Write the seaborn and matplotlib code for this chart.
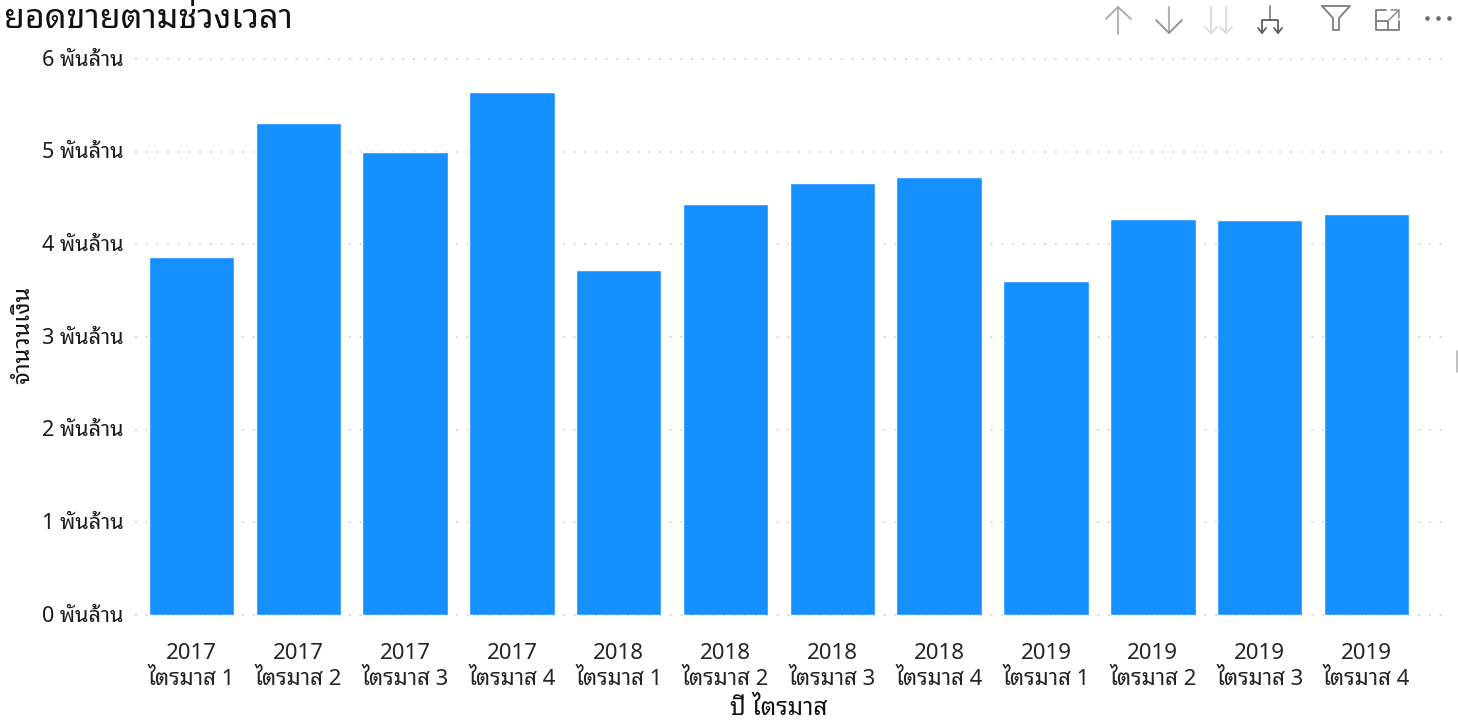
import matplotlib
matplotlib.use("Agg")
import pandas as pd
import seaborn as sns
from matplotlib import pyplot as plt
from matplotlib.transforms import ScaledTranslation

THAI_FONT = ['Noto Sans Thai Looped', 'Noto Sans']

title = 'ยอดขายตามช่วงเวลา'
x_title = 'ปี ไตรมาส'
y_title = 'จำนวนเงิน'
years = ['2017', '2017', '2017', '2017', '2018', '2018', '2018', '2018', '2019', '2019', '2019', '2019']
quarters = ['ไตรมาส 1', 'ไตรมาส 2', 'ไตรมาส 3', 'ไตรมาส 4'] * 3
sales = [3.86, 5.31, 4.995, 5.64, 3.72, 4.43, 4.66, 4.725, 3.60, 4.27, 4.26, 4.33]
y_ticks = [0, 1, 2, 3, 4, 5, 6]
y_labels = ['0 พันล้าน', '1 พันล้าน', '2 พันล้าน', '3 พันล้าน', '4 พันล้าน', '5 พันล้าน', '6 พันล้าน']

W, H = 1458, 720


def draw_icons(fig):
    # Power BI toolbar, in picture pixels
    ov = fig.add_axes([0, 0, 1, 1], zorder=5)
    ov.set_xlim(0, W)
    ov.set_ylim(H, 0)
    ov.axis('off')

    def line(xs, ys, color='#a9a6aa', lw=1.3):
        ov.plot(xs, ys, color=color, lw=lw, solid_capstyle='round', solid_joinstyle='round')

    # up, down
    line([1118, 1118], [7, 34], '#b5b3b5', 1.5)
    line([1106, 1118, 1131], [19, 7, 19], '#a9a7a9')
    line([1169, 1169], [7, 33], '#b5b3b5', 1.5)
    line([1156, 1169, 1182], [20, 33, 20], '#8f8d90')
    # double down, disabled
    for x in [1211, 1226]:
        line([x, x], [7, 33], '#dcdbdc')
        line([x - 6, x, x + 6], [27, 33, 27], '#dcdbdc')
    # expand hierarchy
    line([1270, 1270], [6, 20], '#858386')
    line([1262, 1262, 1278, 1278], [33, 20, 20, 33], '#5f5d60')
    line([1258, 1262, 1266], [28, 33, 28], '#5f5d60')
    line([1274, 1278, 1282], [28, 33, 28], '#5f5d60')
    # filter
    line([1322, 1350, 1339, 1339, 1333, 1333, 1322], [6, 6, 18, 30, 30, 18, 6], '#7f7c80')
    # focus mode
    line([1386, 1376, 1376, 1399, 1399], [10, 10, 30, 30, 21], '#7f7c80')
    line([1376, 1388, 1388], [21, 21, 30], '#7f7c80')
    line([1389, 1399], [20, 10], '#8f8d90', 1.1)
    line([1391, 1399, 1399], [10, 10, 18], '#8f8d90', 1.1)
    # more options
    ov.scatter([1427, 1438, 1449], [18, 18, 18], s=11, color='#6f6d72', linewidths=0)
    # right hand resize handle
    line([1457, 1457], [351, 372], '#b5b5b5', 1.2)


def main():
    sns.set_theme(style='white')
    plt.rcParams['font.family'] = THAI_FONT

    df = pd.DataFrame({
        'period': [f'{y}\n{q}' for y, q in zip(years, quarters)],
        'sales': sales,
    })

    fig = plt.figure(figsize=(W / 100, H / 100), dpi=100)
    ax = fig.add_axes([135 / W, 1 - 615 / H, (1447 - 135) / W, (615 - 59) / H])
    sns.barplot(data=df, x='period', y='sales', color='#1690FF', saturation=1, width=0.80, ax=ax, zorder=3)

    ax.set_xlim(-0.529, 11.754)
    ax.set_ylim(0, 6)
    ax.set_yticks(y_ticks)
    ax.set_yticklabels(y_labels, fontsize=15.6, color='#1c1b1a')
    ax.tick_params(axis='y', length=0, pad=8)
    ax.tick_params(axis='x', length=0, pad=20)
    # labels sit a little above the gridline in the original
    nudge = ScaledTranslation(0, 1.5 / 100, fig.dpi_scale_trans)
    for lab in ax.get_yticklabels():
        lab.set_transform(lab.get_transform() + nudge)
    for lab in ax.get_xticklabels():
        lab.set_fontsize(16)
        lab.set_color('#252423')
        lab.set_linespacing(1.31)

    ax.grid(axis='y', color='#d8d8d7', lw=1.4, linestyle=(0, (1, 4.5)), clip_on=False, zorder=1)
    ax.set_axisbelow(True)
    sns.despine(ax=ax, left=True, bottom=True)

    ax.set_xlabel('')
    ax.set_ylabel('')
    fig.text(779 / W, 1 - 709 / H, x_title, fontsize=17.5, weight=500, color='#111111', ha='center', va='center')
    fig.text(23 / W, 1 - 335 / H, y_title, fontsize=17, weight=500, color='#111111', rotation=90, ha='center', va='center')
    fig.text(4 / W, 1 - 19 / H, title, fontsize=24.5, weight=500, color='#111111', ha='left', va='center')

    draw_icons(fig)
    fig.savefig('out.png', dpi=100)


if __name__ == "__main__":
    main()
